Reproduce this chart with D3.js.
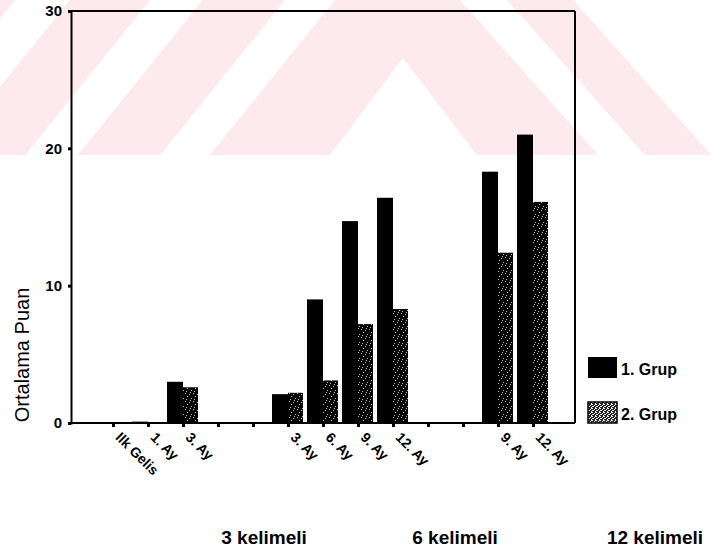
<!DOCTYPE html>
<html><head><meta charset="utf-8">
<script src="https://cdn.jsdelivr.net/npm/d3@7"></script>
<style>
body{margin:0;background:#fff}
svg{display:block}
text{font-family:"Liberation Sans",Arial,sans-serif;fill:#000}
</style>
</head><body>
<svg id="c" width="711" height="553"></svg>
<script>
// ---- data ----
const categoryIds = ["c1","c2","c3","c4","c5","c6","c7","c8","c9","c10","c11","c12","c13"];
const tickLabels = ["Ilk Gelis","1. Ay","3. Ay","","","3. Ay","6. Ay","9. Ay","12. Ay","","","9. Ay","12. Ay"];
const grup1 = [0, 0.1, 3.0, 0, 0, 2.1, 9.0, 14.7, 16.4, 0, 0, 18.3, 21.0];
const grup2 = [0, 0, 2.6, 0, 0, 2.2, 3.1, 7.2, 8.3, 0, 0, 12.4, 16.1];
const seriesNames = ["1. Grup","2. Grup"];
const yTicks = [0, 10, 20, 30];
const blockLabels = ["3 kelimeli","6 kelimeli","12 kelimeli"];
const yTitle = "Ortalama Puan";

// ---- layout ----
const svg = d3.select("#c");
const W = 711, H = 553;
const mLeft = 71, mRight = 575, mTop = 11, mBottom = 423;

// watermark background (decorative)
const wm = svg.append("g");
wm.append("rect").attr("x",0).attr("y",0).attr("width",W).attr("height",155).attr("fill","#fdeaee");
const whitePolys = [
  [[-110,155],[-55,155],[70,0],[15,0]],
  [[25,155],[78,155],[203,0],[150,0]],
  [[160,155],[210,155],[335,0],[285,0]],
  [[330,155],[403,58],[477,155]],
  [[460,0],[507,0],[645,155],[598,155]],
  [[573,0],[800,0],[938,155],[711,155]]
];
wm.selectAll("polygon").data(whitePolys).join("polygon")
  .attr("points", d => d.map(p => p.join(",")).join(" "))
  .attr("fill","#fff");

// patterns
const defs = svg.append("defs");
const pat = defs.append("pattern").attr("id","stip").attr("width",8).attr("height",8).attr("patternUnits","userSpaceOnUse");
pat.append("rect").attr("width",8).attr("height",8).attr("fill","#050505");
[[1,1],[5,2],[3,4],[7,6],[2,7],[6,0]].forEach(p=>pat.append("rect").attr("x",p[0]).attr("y",p[1]).attr("width",1).attr("height",1).attr("fill","#bbb"));
const pat2 = defs.append("pattern").attr("id","stipL").attr("width",4).attr("height",4).attr("patternUnits","userSpaceOnUse");
pat2.append("rect").attr("width",4).attr("height",4).attr("fill","#222");
[[0,0],[2,1],[1,2],[3,3],[3,0],[0,2]].forEach(p=>pat2.append("rect").attr("x",p[0]).attr("y",p[1]).attr("width",1).attr("height",1).attr("fill","#eee"));

// scales
const x = d3.scalePoint().domain(categoryIds).range([mLeft, mRight]).padding(1.2);
const y = d3.scaleLinear().domain([0, 30]).range([mBottom, mTop]);
const barW = [16, 15];
const fills = ["#000", "url(#stip)"];
const series = [grup1, grup2];

// bars
series.forEach((vals, s) => {
  svg.append("g").selectAll("rect").data(vals).join("rect")
    .attr("x", (d,i) => x(categoryIds[i]) + (s === 0 ? -barW[0] : 0))
    .attr("y", d => y(d))
    .attr("width", barW[s])
    .attr("height", d => y(0) - y(d))
    .attr("fill", fills[s]);
});

// frame (top & right)
svg.append("line").attr("x1",mLeft).attr("x2",mRight).attr("y1",mTop).attr("y2",mTop).attr("stroke","#000").attr("stroke-width",2);
svg.append("line").attr("x1",mRight).attr("x2",mRight).attr("y1",mTop).attr("y2",mBottom).attr("stroke","#000").attr("stroke-width",2);

// y axis
const ya = svg.append("g").attr("transform",`translate(${mLeft},0)`)
  .call(d3.axisLeft(y).tickValues(yTicks).tickSize(3).tickPadding(6).tickFormat(d3.format("d")));
ya.select(".domain").attr("stroke","#000").attr("stroke-width",2);
ya.selectAll(".tick line").attr("stroke","#000").attr("stroke-width",3);
ya.selectAll(".tick text").style("font-size","15px").style("font-weight","bold").attr("fill","#000");

// x axis
const xa = svg.append("g").attr("transform",`translate(0,${mBottom})`)
  .call(d3.axisBottom(x).tickSize(4).tickSizeOuter(0).tickFormat(""));
xa.select(".domain").attr("stroke","#000").attr("stroke-width",2).attr("d",`M${mLeft},0H${mRight}`);
xa.selectAll(".tick line").attr("stroke","#000").attr("stroke-width",3);

svg.append("g").selectAll("text").data(categoryIds).join("text")
  .attr("transform", d => `translate(${x(d)+9},${mBottom+8}) rotate(45)`)
  .attr("dy","0.72em")
  .style("font-size","14px").style("font-weight","bold")
  .text((d,i) => tickLabels[i]);

// y title
svg.append("text")
  .attr("transform","translate(29,355) rotate(-90)")
  .attr("text-anchor","middle")
  .style("font-size","20px")
  .text(yTitle);

// block labels
const blockX = [264, 455, 655];
svg.append("g").selectAll("text").data(blockLabels).join("text")
  .attr("x",(d,i)=>blockX[i]).attr("y",544)
  .attr("text-anchor","middle")
  .style("font-size","19px").style("font-weight","bold")
  .text(d=>d);

// legend
const lg = svg.append("g");
const legFills = ["#000","url(#stipL)"];
const legY = [357, 402];
seriesNames.forEach((n,i)=>{
  lg.append("rect").attr("x",588).attr("y",legY[i]).attr("width",29).attr("height",21)
    .attr("fill",legFills[i]).attr("stroke","#000").attr("stroke-width",i?1.5:0);
  lg.append("text").attr("x",621).attr("y",legY[i]+18)
    .style("font-size","16px").style("font-weight","bold").text(n);
});
</script>
</body></html>
